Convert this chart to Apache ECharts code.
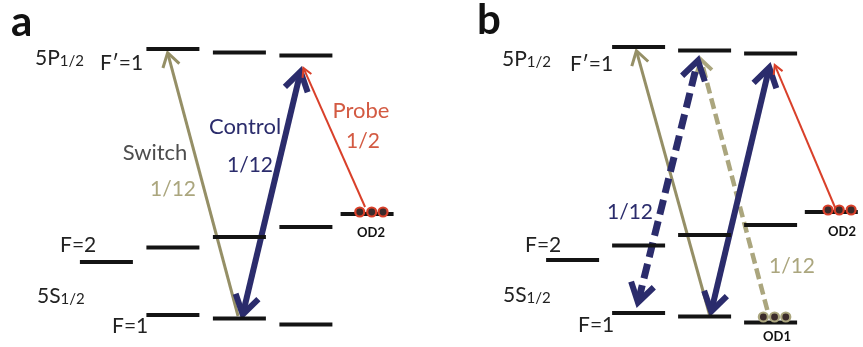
<!DOCTYPE html>
<html>
<head>
<meta charset="utf-8">
<script src="https://cdn.jsdelivr.net/npm/echarts@6/dist/echarts.min.js"></script>
<style>
  html, body { margin: 0; padding: 0; background: #ffffff; }
  #chart { width: 863px; height: 347px; }
</style>
</head>
<body>
<div id="chart"></div>
<script>
// Sublevel columns (x, in column units) and energies (y, arbitrary units).
// Rb-87 D1 line: 5P1/2 F'=1 and 5S1/2 F=1 / F=2 Zeeman sublevels.
const excitedF1 = [[1, 298], [2, 294.5], [3, 291.5]];          // F'=1
const groundF2  = [[0, 85], [1, 99.5], [2, 110], [3, 120]];     // F=2 manifold + sublevels
const groundF1  = [[1, 32], [2, 28.5], [3, 22.5]];              // F=1
const od2Level  = [[3.92, 133]];                                // probe-ready state

// Atom populations sitting on levels
const atomsOD2a = [[3.81, 135], [3.99, 135], [4.16, 135]];
const atomsOD2b = [[3.87, 135], [4.04, 135], [4.22, 135]];
const atomsOD1b = [[2.89, 28], [3.06, 28], [3.23, 28]];

// Transitions: [x1, E1, x2, E2]
const switchA  = [[1.98, 31, 0.91, 297]];
const controlA = [[2.03, 27, 2.94, 281]];
const probeA   = [[3.89, 140, 2.95, 281]];

const switchB     = [[2.08, 29, 0.955, 297]];
const controlB    = [[2.08, 28, 3.0, 283]];
const controlDshB = [[0.97, 37, 1.92, 290]];
const switchDshB  = [[2.95, 35, 1.93, 289]];
const probeB      = [[3.98, 137, 3.05, 282]];

const NAVY = '#2b2c6c';
const OLIVE = '#958f66';
const OLIVE_LIGHT = '#aba67e';
const RED = '#d9402a';

function levelSeries(idx, data) {
  return {
    type: 'custom', xAxisIndex: idx, yAxisIndex: idx, z: 5,
    data: data,
    renderItem: function (params, api) {
      const c = api.coord([api.value(0), api.value(1)]);
      return {
        type: 'line',
        shape: { x1: c[0] - 26.5, y1: c[1], x2: c[0] + 26.5, y2: c[1] },
        style: { stroke: '#141414', lineWidth: 4 }
      };
    }
  };
}

function arrowSeries(idx, data, opt) {
  return {
    type: 'custom', xAxisIndex: idx, yAxisIndex: idx, z: opt.z || 3,
    data: data,
    renderItem: function (params, api) {
      let p1 = api.coord([api.value(0), api.value(1)]);
      let p2 = api.coord([api.value(2), api.value(3)]);
      const dx = p2[0] - p1[0], dy = p2[1] - p1[1];
      const len = Math.sqrt(dx * dx + dy * dy);
      const ux = dx / len, uy = dy / len;
      const hw = opt.headWidth || opt.width;
      const back = hw / (2 * Math.sin(opt.spread));
      const children = [];
      function head(tip, dirx, diry) {
        // dir points from tip back along the shaft
        const t = [tip[0] + dirx * back, tip[1] + diry * back];
        const ang = Math.atan2(diry, dirx);
        const a1 = ang + opt.spread, a2 = ang - opt.spread;
        return {
          type: 'polyline',
          shape: { points: [
            [t[0] + opt.headLen * Math.cos(a1), t[1] + opt.headLen * Math.sin(a1)],
            t,
            [t[0] + opt.headLen * Math.cos(a2), t[1] + opt.headLen * Math.sin(a2)]
          ] },
          style: { stroke: opt.color, lineWidth: hw, fill: null, lineJoin: 'miter', lineCap: 'butt' }
        };
      }
      let s1 = p1, s2 = p2;
      if (opt.headStart) s1 = [p1[0] + ux * back * 1.5, p1[1] + uy * back * 1.5];
      if (opt.headEnd) s2 = [p2[0] - ux * back * 1.5, p2[1] - uy * back * 1.5];
      children.push({
        type: 'line',
        shape: { x1: s1[0], y1: s1[1], x2: s2[0], y2: s2[1] },
        style: { stroke: opt.color, lineWidth: opt.width, lineDash: opt.dash || null, lineCap: 'butt' }
      });
      if (opt.headEnd) children.push(head(p2, -ux, -uy));
      if (opt.headStart) children.push(head(p1, ux, uy));
      return { type: 'group', children: children };
    }
  };
}

function atomSeries(idx, data, ring) {
  return {
    type: 'scatter', xAxisIndex: idx, yAxisIndex: idx, z: 6,
    data: data, symbol: 'circle', symbolSize: 9,
    itemStyle: { color: '#3b2b2b', borderColor: ring, borderWidth: 2.2, opacity: 1 },
    silent: true
  };
}

function txt(x, y, text, size, color, opts) {
  opts = opts || {};
  return {
    type: 'text', x: x, y: y, z: 10,
    style: {
      text: text, fill: color,
      fontSize: size, fontFamily: opts.family || 'Lato',
      fontWeight: opts.weight || 'normal',
      align: opts.align || 'center', verticalAlign: 'middle',
      rich: opts.rich
    }
  };
}

function stateLabel(x, y, main, sub) {
  return {
    type: 'text', x: x, y: y, z: 10,
    style: {
      text: '{m|' + main + '}{s|' + sub + '}',
      align: 'left', verticalAlign: 'middle',
      rich: {
        m: { fontSize: 21, fontFamily: 'Lato', fill: '#222', verticalAlign: 'bottom', lineHeight: 24 },
        s: { fontSize: 15, fontFamily: 'Lato', fill: '#222', verticalAlign: 'bottom', lineHeight: 22 }
      }
    }
  };
}

const chart = echarts.init(document.getElementById('chart'), null, { renderer: 'canvas' });

const graphics = [
  // panel a
  txt(11, 22, 'a', 42, '#111', { align: 'left', weight: 'bold' }),
  stateLabel(35, 57, '5P', '1/2'),
  txt(100, 63, 'F\u2032=1', 21, '#222', { align: 'left' }),
  txt(60, 245, 'F=2', 21, '#222', { align: 'left' }),
  stateLabel(37, 295, '5S', '1/2'),
  txt(112, 326, 'F=1', 21, '#222', { align: 'left' }),
  txt(155, 153, 'Switch', 22, '#4d4d4d'),
  txt(173, 189, '1/12', 21, OLIVE_LIGHT),
  txt(245, 127, 'Control', 22, NAVY),
  txt(250, 165, '1/12', 21, NAVY),
  txt(361, 111, 'Probe', 22, '#d35a42'),
  txt(363, 141, '1/2', 21, '#d35a42'),
  txt(371, 233, 'OD2', 13, '#111', { weight: 'bold' }),
  // panel b
  txt(477, 20, 'b', 42, '#111', { align: 'left', weight: 'bold' }),
  stateLabel(502, 58, '5P', '1/2'),
  txt(570, 64, 'F\u2032=1', 21, '#222', { align: 'left' }),
  txt(525, 245, 'F=2', 21, '#222', { align: 'left' }),
  stateLabel(503, 294, '5S', '1/2'),
  txt(578, 325, 'F=1', 21, '#222', { align: 'left' }),
  txt(630, 212, '1/12', 21, NAVY),
  txt(792, 266, '1/12', 21, OLIVE_LIGHT),
  txt(842, 232, 'OD2', 13, '#111', { weight: 'bold' }),
  txt(777, 337, 'OD1', 13, '#111', { weight: 'bold' })
];

const option = {
  backgroundColor: '#ffffff',
  animation: false,
  grid: [
    { left: 0, top: 0, width: 399, height: 347 },
    { left: 467, top: 0, width: 399, height: 347 }
  ],
  xAxis: [
    { type: 'value', gridIndex: 0, min: -1.6, max: 4.4, show: false },
    { type: 'value', gridIndex: 1, min: -1.6, max: 4.4, show: false }
  ],
  yAxis: [
    { type: 'value', gridIndex: 0, min: 0, max: 347, show: false },
    { type: 'value', gridIndex: 1, min: -2, max: 345, show: false }
  ],
  graphic: graphics,
  series: [
    // panel a
    levelSeries(0, excitedF1), levelSeries(0, groundF2), levelSeries(0, groundF1), levelSeries(0, od2Level),
    arrowSeries(0, switchA,  { color: OLIVE, width: 3, headLen: 16, spread: 0.56, headEnd: true, z: 2 }),
    arrowSeries(0, controlA, { color: NAVY, width: 6, headLen: 22, spread: 0.56, headStart: true, headEnd: true, z: 3 }),
    arrowSeries(0, probeA,   { color: RED, width: 2, headLen: 10, spread: 0.5, headEnd: true, z: 3 }),
    atomSeries(0, atomsOD2a, RED),
    // panel b
    levelSeries(1, excitedF1), levelSeries(1, groundF2), levelSeries(1, groundF1), levelSeries(1, od2Level),
    arrowSeries(1, switchB,     { color: OLIVE, width: 3, headLen: 16, spread: 0.56, headEnd: true, z: 2 }),
    arrowSeries(1, switchDshB,  { color: OLIVE_LIGHT, width: 4.5, headWidth: 4, headLen: 15, spread: 0.56, headEnd: true, dash: [11, 5], z: 2 }),
    arrowSeries(1, controlDshB, { color: NAVY, width: 7, headWidth: 6, headLen: 22, spread: 0.56, headStart: true, headEnd: true, dash: [15, 7], z: 3 }),
    arrowSeries(1, controlB,    { color: NAVY, width: 6, headLen: 22, spread: 0.56, headStart: true, headEnd: true, z: 3 }),
    arrowSeries(1, probeB,      { color: RED, width: 2, headLen: 10, spread: 0.5, headEnd: true, z: 3 }),
    atomSeries(1, atomsOD2b, RED),
    atomSeries(1, atomsOD1b, OLIVE_LIGHT)
  ]
};

chart.setOption(option);
</script>
</body>
</html>
